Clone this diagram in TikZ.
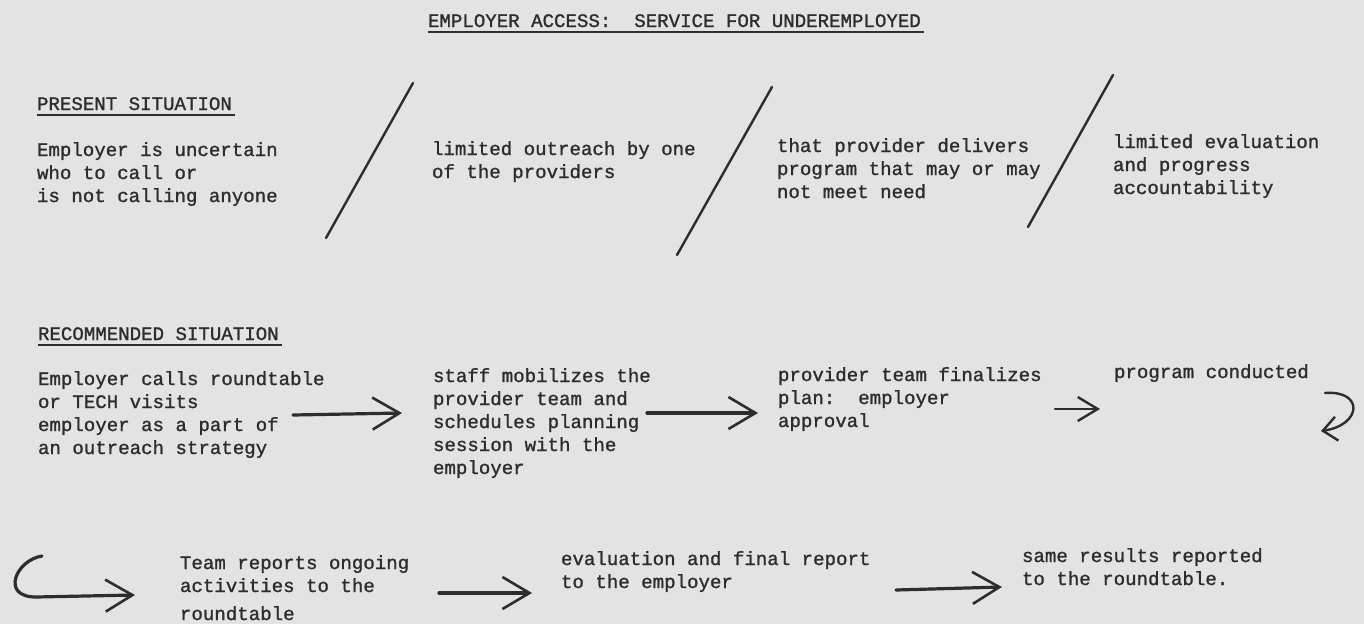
\documentclass[tikz,border=0pt]{standalone}
\usepackage{fontspec}
\setmainfont{Liberation Mono}[FakeBold=1.2]
\usetikzlibrary{arrows.meta}
\frenchspacing
\definecolor{bg}{RGB}{227,227,227}
\definecolor{ink}{RGB}{45,45,45}
\tikzset{
  txt/.style={anchor=north west, inner sep=0pt, outer sep=0pt, align=left, text=ink,
              font=\fontsize{19.1}{23}\selectfont},
  sepline/.style={draw=ink, line width=2.4pt, line cap=round},
  uline/.style={draw=ink, line width=2.2pt},
  arr/.style={draw=ink, line width=3.2pt, line cap=round,
              -{Straight Barb[length=27pt,width=32pt,line width=2.6pt]}},
  arrsmall/.style={draw=ink, line width=2.6pt, line cap=round,
              -{Straight Barb[length=20pt,width=24pt,line width=2.4pt]}},
  arrcurve/.style={draw=ink, line width=2.4pt, line cap=round,
              -{Straight Barb[length=14pt,width=24pt,line width=2.4pt]}},
}
\begin{document}
\begin{tikzpicture}[x=1pt,y=-1pt]
\fill[bg] (0,0) rectangle (1364,624);
\useasboundingbox (0,0) rectangle (1364,624);

% headings
\node[txt] (title) at (428,10.9) {\strut EMPLOYER ACCESS:\ \ SERVICE FOR UNDEREMPLOYED};
\draw[uline] ([yshift=-5pt]title.base west) -- ([yshift=-5pt,xshift=3pt]title.base east);
\node[txt] (present) at (37,93.9) {\strut PRESENT SITUATION};
\draw[uline] ([yshift=-5pt]present.base west) -- ([yshift=-5pt,xshift=3pt]present.base east);
\node[txt] (recom) at (38,323.9) {\strut RECOMMENDED SITUATION};
\draw[uline] ([yshift=-5pt]recom.base west) -- ([yshift=-5pt,xshift=3pt]recom.base east);

% present situation
\node[txt] (p1) at (37,139.9) {\strut Employer is uncertain\\who to call or\\is not calling anyone};
\node[txt] (p2) at (432,138.9) {\strut limited outreach by one\\of the providers};
\node[txt] (p3) at (777,135.9) {\strut that provider delivers\\program that may or may\\not meet need};
\node[txt] (p4) at (1113,131.9) {\strut limited evaluation\\and progress\\accountability};

\draw[sepline] (413,83) -- (326,238);
\draw[sepline] (772,87) -- (677,255);
\draw[sepline] (1113,75) -- (1028,227);

% recommended situation
\node[txt] (r1) at (38,368.9) {\strut Employer calls roundtable\\or TECH visits\\employer as a part of\\an outreach strategy};
\node[txt] (r2) at (433,365.9) {\strut staff mobilizes the\\provider team and\\schedules planning\\session with the\\employer};
\node[txt] (r3) at (778,364.9) {\strut provider team finalizes\\plan:\ \ employer\\approval};
\node[txt] (r4) at (1114,361.9) {\strut program conducted};
\node[txt] (r5) at (180,552.9) {\strut Team reports ongoing\\activities to the\\[5pt]roundtable};
\node[txt] (r6) at (561,548.9) {\strut evaluation and final report\\to the employer};
\node[txt] (r7) at (1022,545.9) {\strut same results reported\\to the roundtable.};

% connector end points
\coordinate (a1s) at (293,415);  \coordinate (a1e) at (402,413);
\coordinate (a2s) at (647,413);  \coordinate (a2e) at (758,413);
\coordinate (a3s) at (1055,409); \coordinate (a3e) at (1100,409);
\coordinate (c1s) at (1325,393); \coordinate (c1e) at (1321,431);
\coordinate (c2s) at (42,556);   \coordinate (c2e) at (135,595);
\coordinate (a4s) at (439,593);  \coordinate (a4e) at (532,593);
\coordinate (a5s) at (896,590);  \coordinate (a5e) at (1002,587);

\draw[arr] (a1s) -- (a1e);
\draw[arr] (a2s) -- (a2e);
\draw[arrsmall] (a3s) -- (a3e);
\draw[arrcurve] (c1s) .. controls (1364,390) and (1362,425) .. (c1e);
\draw[arr] (c2s) .. controls (16,560) and (0,597) .. (36,597) -- (c2e);
\draw[arr] (a4s) -- (a4e);
\draw[arr] (a5s) -- (a5e);
\end{tikzpicture}
\end{document}
